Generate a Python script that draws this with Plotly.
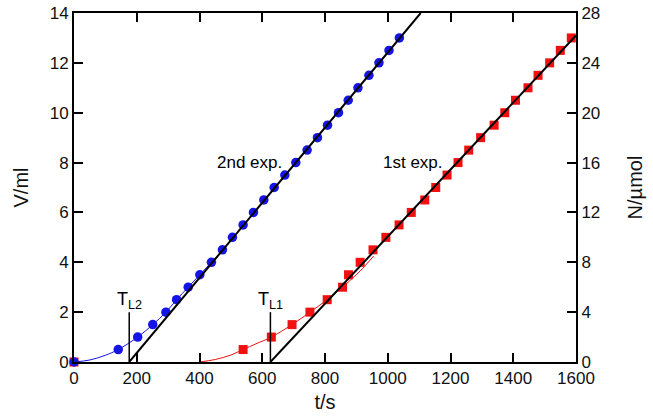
import plotly.graph_objects as go

# 2nd experiment (blue circles): time in s, volume in ml
exp2_t = [0, 141, 203, 251, 293, 327, 364, 401, 438, 473, 505, 539, 572, 605,
          638, 672, 707, 743, 776, 808, 843, 874, 905, 940, 972, 1004, 1037]
exp2_v = [0, 0.5, 1.0, 1.5, 2.0, 2.5, 3.0, 3.5, 4.0, 4.5, 5.0, 5.5, 6.0, 6.5,
          7.0, 7.5, 8.0, 8.5, 9.0, 9.5, 10.0, 10.5, 11.0, 11.5, 12.0, 12.5, 13.0]

# 1st experiment (red squares)
exp1_t = [0, 539, 629, 695, 752, 807, 856, 875, 912, 953, 994, 1036, 1075,
          1118, 1153, 1189, 1224, 1258, 1296, 1339, 1373, 1407, 1447, 1479,
          1516, 1550, 1585]
exp1_v = [0, 0.5, 1.0, 1.5, 2.0, 2.5, 3.0, 3.5, 4.0, 4.5, 5.0, 5.5, 6.0,
          6.5, 7.0, 7.5, 8.0, 8.5, 9.0, 9.5, 10.0, 10.5, 11.0, 11.5,
          12.0, 12.5, 13.0]

# thin fitted curves
curve2_t = [0, 50, 100, 141, 203, 251, 293, 327, 364, 401, 438, 475]
curve2_v = [0, 0.08, 0.27, 0.5, 1.0, 1.5, 2.0, 2.5, 3.0, 3.5, 4.0, 4.5]
curve1_t = [400, 450, 500, 539, 580, 629, 695, 752, 807, 860, 912, 955]
curve1_v = [0, 0.1, 0.28, 0.5, 0.73, 1.0, 1.5, 2.0, 2.5, 3.05, 3.65, 4.25]

# linear asymptotes
line2_t = [176, 1105]
line2_v = [0, 14]
line1_t = [626, 1600]
line1_v = [0, 13.1]

# lag times
tl2 = 176
tl1 = 626
tl_height = 2.0

FONT = 'Arial'
BLUE = '#1414e6'
RED = '#f01010'

fig = go.Figure()

fig.add_trace(go.Scatter(x=curve2_t, y=curve2_v, mode='lines', line_shape='spline',
                         line=dict(color=BLUE, width=1)))
fig.add_trace(go.Scatter(x=curve1_t, y=curve1_v, mode='lines', line_shape='spline',
                         line=dict(color=RED, width=1)))

fig.add_trace(go.Scatter(x=exp1_t, y=exp1_v, mode='markers', cliponaxis=False,
                         marker=dict(symbol='square', size=9, color=RED)))
fig.add_trace(go.Scatter(x=exp2_t, y=exp2_v, mode='markers', cliponaxis=False,
                         marker=dict(symbol='circle', size=9.5, color=BLUE)))

fig.add_trace(go.Scatter(x=line2_t, y=line2_v, mode='lines',
                         line=dict(color='black', width=2)))
fig.add_trace(go.Scatter(x=line1_t, y=line1_v, mode='lines',
                         line=dict(color='black', width=2)))

# lag-time markers
for t in (tl2, tl1):
    fig.add_trace(go.Scatter(x=[t, t], y=[0, tl_height], mode='lines',
                             line=dict(color='black', width=1.5)))

# empty trace to activate right axis
fig.add_trace(go.Scatter(x=[None], y=[None], yaxis='y2'))

fig.add_annotation(x=tl2, y=tl_height, text='T<sub>L2</sub>', showarrow=False,
                   yanchor='bottom', xanchor='center', yshift=-2,
                   font=dict(family=FONT, size=18, color='black'))
fig.add_annotation(x=tl1, y=tl_height, text='T<sub>L1</sub>', showarrow=False,
                   yanchor='bottom', xanchor='center', yshift=-2,
                   font=dict(family=FONT, size=18, color='black'))
fig.add_annotation(x=558, y=8.0, text='2nd exp.', showarrow=False,
                   font=dict(family=FONT, size=17, color='black'))
fig.add_annotation(x=1080, y=8.0, text='1st exp.', showarrow=False,
                   font=dict(family=FONT, size=17, color='black'))

axis_style = dict(showline=True, linecolor='black', linewidth=2,
                  ticks='inside', ticklen=9, tickwidth=1.5, tickcolor='black',
                  showgrid=False, zeroline=False, automargin=False,
                  tickfont=dict(family=FONT, size=17, color='#111111'))

fig.update_layout(
    width=653, height=418,
    margin=dict(l=74, r=77, t=13, b=56, pad=0),
    showlegend=False,
    plot_bgcolor='white', paper_bgcolor='white',
    font=dict(family=FONT, size=17, color='#111111'),
    xaxis=dict(range=[0, 1600], dtick=200, mirror='ticks',
               title=dict(text='t/s', standoff=8), **axis_style),
    yaxis=dict(range=[0, 14], dtick=2, title=dict(text='V/ml', standoff=16),
               **axis_style),
    yaxis2=dict(range=[0, 28], dtick=4, overlaying='y', side='right',
                title=dict(text='N/µmol', standoff=29), **axis_style),
)

# drop the default 8px body margin so the figure fills the window
fig.write_html("out.html", config={'displayModeBar': False},
               post_script="document.body.style.margin='0';")
